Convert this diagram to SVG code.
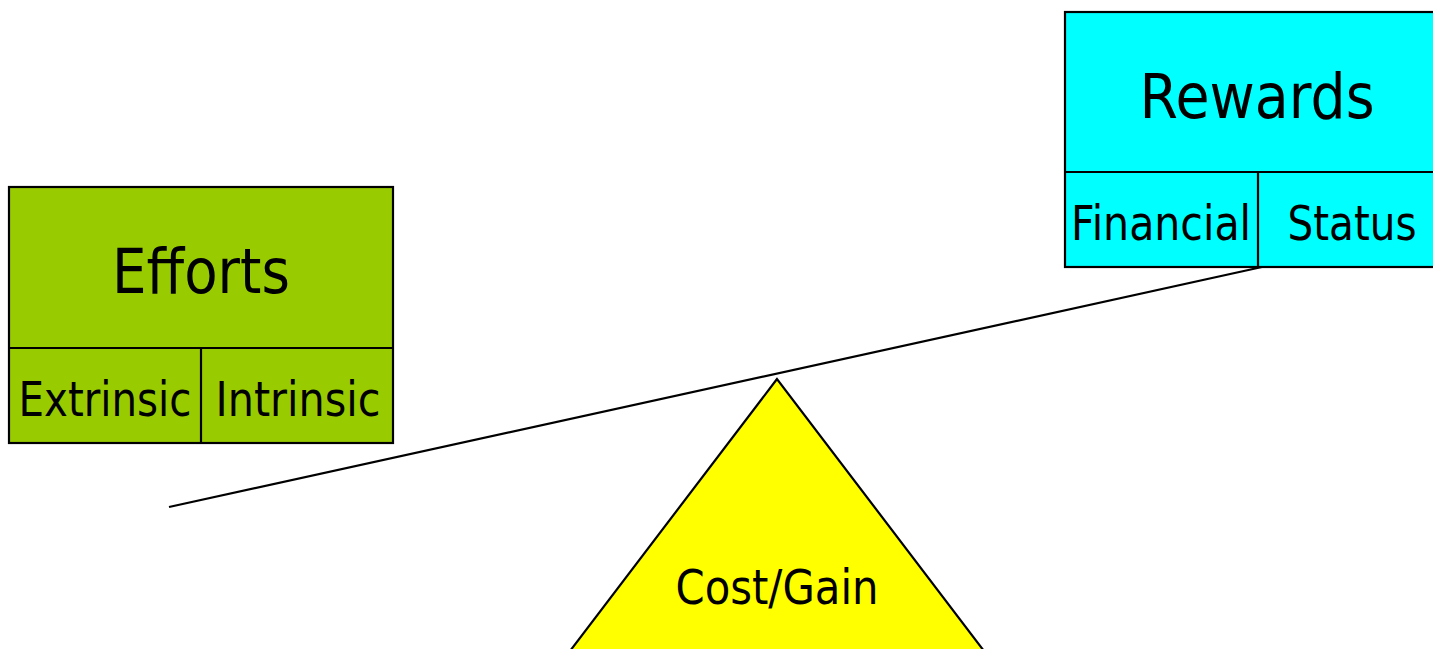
<svg xmlns="http://www.w3.org/2000/svg" width="1433" height="649" viewBox="0 0 1433 649">
  <style>
    .box { stroke: #000; stroke-width: 2.2; }
    .rule { stroke: #000; stroke-width: 2.2; fill: none; }
    .t { font-family: "DejaVu Sans", "Liberation Sans", sans-serif; fill: #000; text-anchor: middle; }
    .big { font-size: 63px; }
    .small { font-size: 48px; }
  </style>
  <rect width="1433" height="649" fill="#fff"/>

  <g id="connectors">
    <line class="rule" x1="169" y1="507" x2="1262" y2="267"/>
  </g>

  <g id="fulcrum">
    <polygon class="box" fill="#ffff00" points="777,379 551,676 1003,676"/>
    <text class="t small" x="777" y="604" textLength="203" lengthAdjust="spacingAndGlyphs">Cost/Gain</text>
  </g>

  <g id="efforts">
    <rect class="box" fill="#99cc00" x="9" y="187" width="384" height="256"/>
    <line class="rule" x1="9" y1="348" x2="393" y2="348"/>
    <line class="rule" x1="201" y1="348" x2="201" y2="443"/>
    <text class="t big" x="201" y="293" textLength="178" lengthAdjust="spacingAndGlyphs">Efforts</text>
    <text class="t small" x="105" y="416" textLength="173" lengthAdjust="spacingAndGlyphs">Extrinsic</text>
    <text class="t small" x="298" y="416" textLength="165" lengthAdjust="spacingAndGlyphs">Intrinsic</text>
  </g>

  <g id="rewards">
    <rect class="box" fill="#00ffff" x="1065" y="12" width="380" height="255"/>
    <line class="rule" x1="1065" y1="172" x2="1445" y2="172"/>
    <line class="rule" x1="1258" y1="172" x2="1258" y2="267"/>
    <text class="t big" x="1257" y="118" textLength="235" lengthAdjust="spacingAndGlyphs">Rewards</text>
    <text class="t small" x="1161" y="240" textLength="180" lengthAdjust="spacingAndGlyphs">Financial</text>
    <text class="t small" x="1352" y="240" textLength="129" lengthAdjust="spacingAndGlyphs">Status</text>
  </g>
</svg>
